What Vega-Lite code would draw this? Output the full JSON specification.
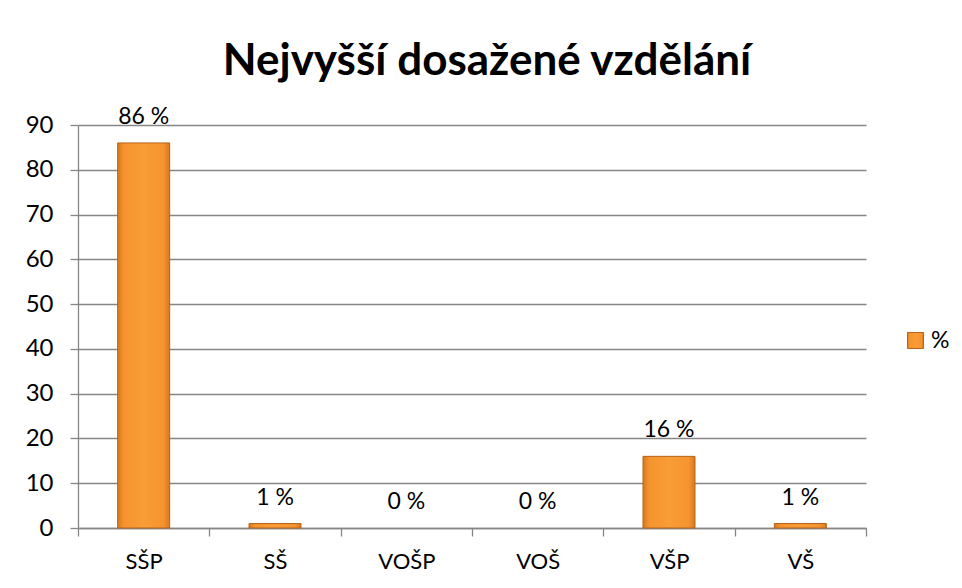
{
  "$schema": "https://vega.github.io/schema/vega-lite/v6.json",
  "width": 788,
  "height": 403,
  "autosize": {"type": "none"},
  "padding": {"left": 78, "top": 125, "right": 96, "bottom": 60},
  "background": "white",
  "title": {
    "text": "Nejvyšší dosažené vzdělání",
    "font": "Lato",
    "fontSize": 44,
    "fontWeight": "bold",
    "color": "black",
    "anchor": "middle",
    "frame": "group",
    "offset": 22,
    "dx": 15
  },
  "config": {
    "view": {"stroke": null},
    "axis": {
      "labelFont": "Lato",
      "labelColor": "black",
      "domainColor": "#868686",
      "tickColor": "#868686",
      "gridColor": "#868686",
      "domainWidth": 1.3,
      "tickWidth": 1.3,
      "gridWidth": 1.3
    }
  },
  "data": {
    "values": [
      {"cat": "SŠP", "v": 86, "label": "86 %"},
      {"cat": "SŠ", "v": 1, "label": "1 %"},
      {"cat": "VOŠP", "v": 0, "label": "0 %"},
      {"cat": "VOŠ", "v": 0, "label": "0 %"},
      {"cat": "VŠP", "v": 16, "label": "16 %"},
      {"cat": "VŠ", "v": 1, "label": "1 %"}
    ]
  },
  "encoding": {
    "x": {
      "field": "cat",
      "type": "nominal",
      "sort": null,
      "scale": {"domain": ["SŠP", "SŠ", "VOŠP", "VOŠ", "VŠP", "VŠ"], "paddingInner": 0, "paddingOuter": 0},
      "axis": {
        "title": null,
        "labelAngle": 0,
        "tickBand": "extent",
        "tickSize": 8,
        "labelFontSize": 22,
        "labelPadding": 15
      }
    },
    "y": {
      "field": "v",
      "type": "quantitative",
      "scale": {"domain": [0, 90], "nice": false},
      "axis": {
        "title": null,
        "values": [0, 10, 20, 30, 40, 50, 60, 70, 80, 90],
        "grid": true,
        "tickSize": 8,
        "labelFontSize": 24,
        "labelPadding": 17
      }
    }
  },
  "layer": [
    {
      "transform": [{"filter": "datum.v > 0"}],
      "mark": {
        "type": "bar",
        "size": 52,
        "strokeWidth": 1,
        "color": {
          "gradient": "linear",
          "x1": 0, "x2": 1, "y1": 0, "y2": 0,
          "stops": [
            {"offset": 0, "color": "#D9781E"},
            {"offset": 0.12, "color": "#F5942E"},
            {"offset": 0.5, "color": "#F99D36"},
            {"offset": 0.88, "color": "#F5942E"},
            {"offset": 1, "color": "#D9781E"}
          ]
        }
      },
      "encoding": {
        "stroke": {
          "datum": "%",
          "scale": {"range": ["#B5621C"]},
          "legend": {
            "orient": "none",
            "legendX": 826,
            "legendY": 204,
            "title": null,
            "symbolType": "square",
            "symbolSize": 256,
            "symbolFillColor": "#F39531",
            "symbolStrokeWidth": 1,
            "labelFont": "Lato",
            "labelFontSize": 23,
            "labelColor": "black",
            "labelOffset": 4
          }
        }
      }
    },
    {
      "mark": {
        "type": "text",
        "font": "Lato",
        "fontSize": 23,
        "color": "black",
        "baseline": "bottom",
        "dy": -14
      },
      "encoding": {
        "text": {"field": "label"}
      }
    }
  ]
}
